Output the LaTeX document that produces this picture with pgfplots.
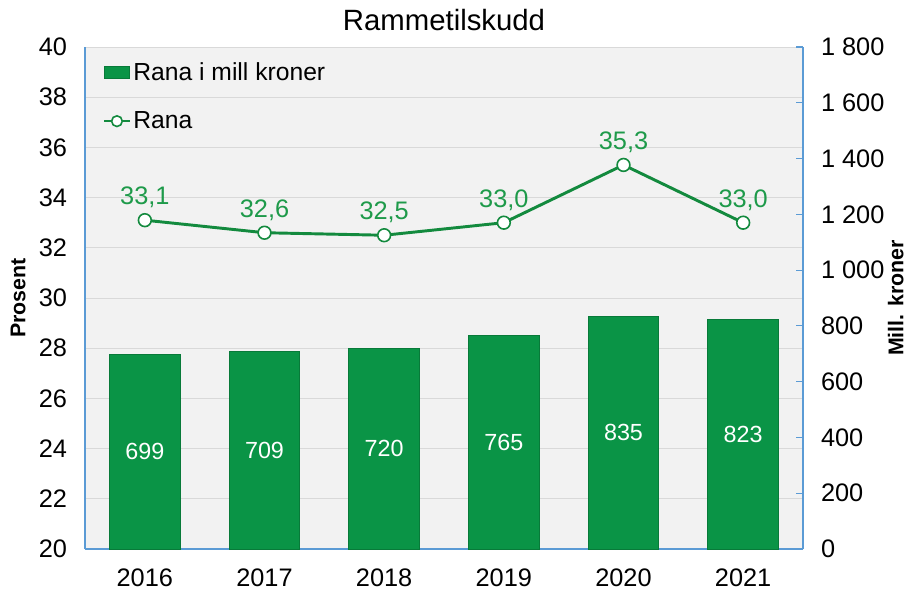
\documentclass[border=0pt]{standalone}
\usepackage{pgfplots}
\pgfplotsset{compat=1.18}
\usepackage{fontspec}
\setmainfont{Liberation Sans}
\definecolor{bargreen}{HTML}{0A9446}
\definecolor{baredge}{HTML}{087A39}
\definecolor{linegreen}{HTML}{138A3E}
\definecolor{labelgreen}{HTML}{1E9A4A}
\definecolor{axisblue}{HTML}{5B9BD5}
\definecolor{bg}{HTML}{F2F2F2}
\definecolor{gridgray}{HTML}{D9D9D9}
\begin{document}
\begin{tikzpicture}
\pgfplotsset{
  common/.style={
    scale only axis, width=538.5pt, height=376.5pt,
    xmin=-0.5, xmax=5.5,
    /pgf/number format/assume math mode=true,
    tick label style={font=\fontsize{19}{22}\selectfont},
    axis line style={axisblue, line width=0.8pt},
  }
}
% Axis 1: background, grid, left axis, x labels
\begin{axis}[common,
  axis x line*=bottom, axis y line*=left,
  ymin=20, ymax=40, ytick={20,22,...,40},
  ymajorgrids, grid style={gridgray, line width=0.6pt},
  axis background/.style={fill=bg},
  xtick={0,...,5}, xticklabels={2016,2017,2018,2019,2020,2021},
  major tick length=0pt,
  xticklabel style={anchor=north, yshift=-11pt},
  yticklabel style={anchor=east, xshift=-10pt},
  ylabel={\bfseries Prosent},
  ylabel style={font=\fontsize{16}{19}\selectfont, at={(axis description cs:-0.093,0.5)}, anchor=center, inner sep=0pt},
  title={Rammetilskudd},
  title style={font=\fontsize{22}{26}\selectfont, at={(axis description cs:0.5,1)}, anchor=center, yshift=14pt},
]
\end{axis}
% Axis 2: bars on right axis
\begin{axis}[common,
  axis x line=none, axis y line*=right,
  ymin=0, ymax=1800, ytick={0,200,...,1800},
  /pgf/number format/1000 sep={\ },
  ytick style={axisblue, line width=0.8pt},
  major tick length=5pt,
  yticklabel style={anchor=west, xshift=10pt},
  ylabel={\bfseries Mill. kroner},
  ylabel style={font=\fontsize{16}{19}\selectfont, at={(axis description cs:1.129,0.5)}, anchor=center, inner sep=0pt},
]
\addplot[ybar, bar width=53pt, fill=bargreen, draw=baredge, line width=0.6pt]
  table[x=x,y=y] {
x y
0 699
1 709
2 720
3 765
4 835
5 823
};
\addplot[only marks, mark=none, nodes near coords, point meta=explicit symbolic,
  every node near coord/.append style={font=\fontsize{17.5}{20}\selectfont, text=white, anchor=center}]
  table[x=x,y=h,meta=l] {
x h l
0 349.5 699
1 354.5 709
2 360 720
3 382.5 765
4 417.5 835
5 411.5 823
};
\end{axis}
% Axis 3: line on left scale, legend
\begin{axis}[common,
  axis x line=none, axis y line=none,
  ymin=20, ymax=40,
  legend style={draw=none, fill=none, at={(0.025,0.975)}, anchor=north west,
    font=\fontsize{18.5}{21}\selectfont, row sep=18pt, inner sep=0pt},
  legend cell align=left,
  legend image code/.code={},
]
\addlegendimage{legend image code/.code={\fill[bargreen, draw=baredge] (0pt,-4.5pt) rectangle (19pt,4.5pt);}}
\addlegendentry{Rana i mill kroner}
\addplot[linegreen, line width=2.2pt, mark=*, mark size=4.8pt,
  mark options={fill=white, draw=linegreen, line width=1.2pt},
  legend image code/.code={\draw[linegreen, line width=1.6pt] (0pt,0pt) -- (19pt,0pt); \draw[linegreen, fill=white, line width=1.2pt] (9.5pt,0pt) circle (4pt);},
  nodes near coords, point meta=explicit symbolic,
  every node near coord/.append style={font=\fontsize{19}{22}\selectfont, text=labelgreen, anchor=center, yshift=17pt}]
  table[x=x,y=y,meta=l] {
x y l
0 33.1 {33,1}
1 32.6 {32,6}
2 32.5 {32,5}
3 33.0 {33,0}
4 35.3 {35,3}
5 33.0 {33,0}
};
\addlegendentry{Rana}
\end{axis}
\pgfresetboundingbox
\path[use as bounding box] (-63.75pt,-32.25pt) rectangle (618pt,411.75pt);
\end{tikzpicture}
\end{document}
